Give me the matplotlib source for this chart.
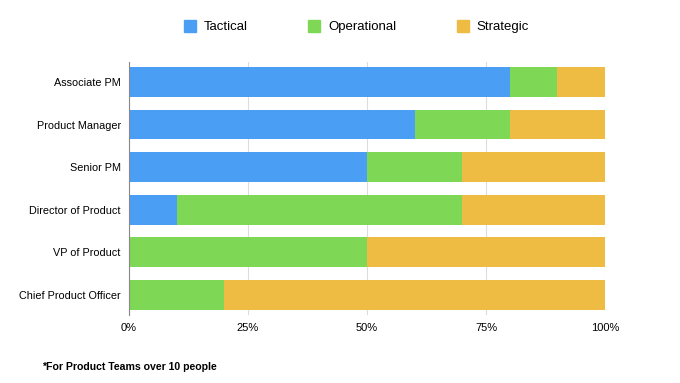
import matplotlib.pyplot as plt
from matplotlib.patches import Patch

plt.rcParams['font.family'] = ['Liberation Sans', 'DejaVu Sans']

roles = ["Associate PM", "Product Manager", "Senior PM",
         "Director of Product", "VP of Product", "Chief Product Officer"]
tactical = [80, 60, 50, 10, 0, 0]
operational = [10, 20, 20, 60, 50, 20]
strategic = [10, 20, 30, 30, 50, 80]
series_names = ["Tactical", "Operational", "Strategic"]
colors = ["#4a9ff5", "#7fd855", "#efbc43"]

fig = plt.figure(figsize=(6.8, 3.83), dpi=100)
ax = fig.add_axes([0.1897, 0.178, 0.70, 0.66])

y = list(range(len(roles)))
left = [0] * len(roles)
for vals, c in zip([tactical, operational, strategic], colors):
    ax.barh(y, vals, left=left, height=0.7, color=c, zorder=2)
    left = [a + b for a, b in zip(left, vals)]

ax.set_xlim(0, 100)
ax.set_ylim(5.47, -0.47)
ax.set_yticks(y)
ax.set_yticklabels(roles, fontsize=7.8)
ax.set_xticks([0, 25, 50, 75, 100])
ax.set_xticklabels(["0%", "25%", "50%", "75%", "100%"], fontsize=8)
ax.tick_params(axis='x', length=0, pad=6)
ax.tick_params(axis='y', length=0, pad=6)
ax.grid(axis='x', color="#dddddd", linewidth=0.8, zorder=0)
for s in ['top', 'right', 'bottom']:
    ax.spines[s].set_visible(False)
ax.spines['left'].set_color("#888888")
ax.spines['left'].set_linewidth(0.8)
ax.spines['left'].set_zorder(3)

handles = [Patch(color=c) for c in colors]
fig.legend(handles, series_names, loc='center', bbox_to_anchor=(0.524, 0.93),
           ncol=3, frameon=False, fontsize=9.5, handlelength=0.9, handleheight=0.95,
           handletextpad=0.6, columnspacing=4.6)

fig.text(0.062, 0.033, "*For Product Teams over 10 people", fontsize=7.6,
         fontweight='bold')

fig.savefig("out.png", dpi=100)
